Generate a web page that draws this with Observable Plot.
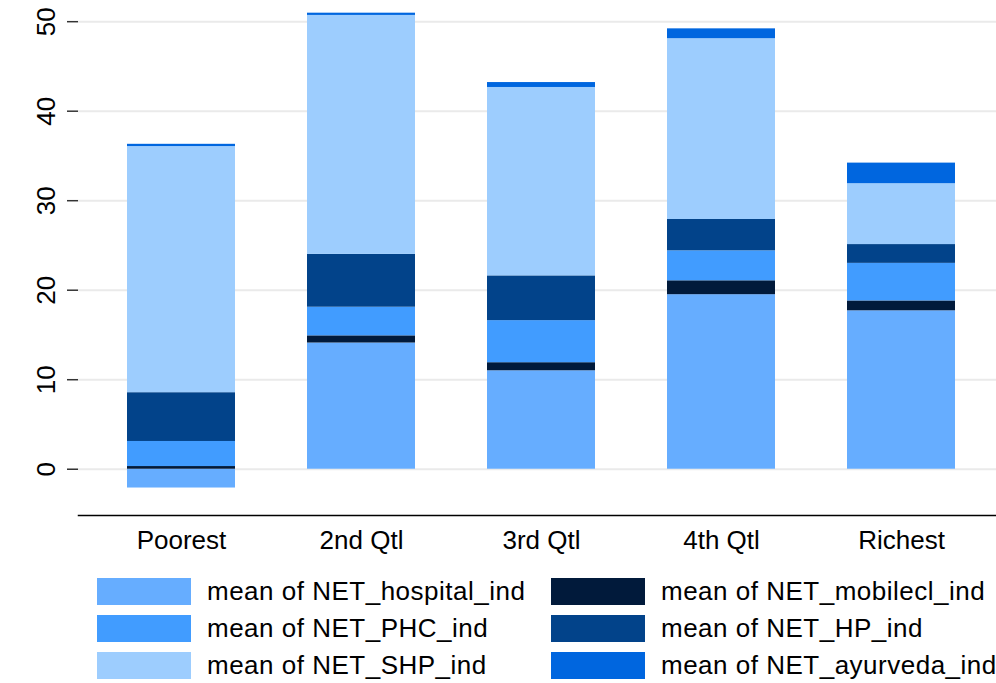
<!DOCTYPE html>
<html>
<head>
<meta charset="utf-8">
<script src="https://cdn.jsdelivr.net/npm/d3@7"></script>
<script src="https://cdn.jsdelivr.net/npm/@observablehq/plot@0.6"></script>
<style>
  body { margin: 0; background: #fff; font-family: "Liberation Sans", Arial, Helvetica, sans-serif; }
  #wrap { position: relative; width: 996px; height: 683px; overflow: hidden; }
  #chart { position: absolute; left: 0; top: 0; }
  .item { position: absolute; height: 27px; display: flex; align-items: center; }
  .sw { width: 94px; height: 27px; box-sizing: border-box; }
  .lab { margin-left: 16px; font-size: 26px; letter-spacing: 0.5px; color: #000; white-space: nowrap; line-height: 27px; }
</style>
</head>
<body>
<div id="wrap">
  <div id="chart"></div>
  <div id="legend"></div>
</div>
<script>
const categories = ["Poorest", "2nd Qtl", "3rd Qtl", "4th Qtl", "Richest"];
const seriesNames = [
  "mean of NET_hospital_ind",
  "mean of NET_mobilecl_ind",
  "mean of NET_PHC_ind",
  "mean of NET_HP_ind",
  "mean of NET_SHP_ind",
  "mean of NET_ayurveda_ind"
];
const hospital = [-2.1, 14.1, 11.0, 19.5, 17.7];
const mobilecl = [0.3, 0.8, 0.9, 1.55, 1.1];
const PHC      = [2.8, 3.2, 4.7, 3.35, 4.2];
const HP       = [5.45, 5.9, 5.0, 3.5, 2.1];
const SHP      = [27.5, 26.7, 21.05, 20.2, 6.8];
const ayurveda = [0.25, 0.25, 0.55, 1.1, 2.3];
const seriesValues = [hospital, mobilecl, PHC, HP, SHP, ayurveda];
const colors = ["#66adff", "#011a3b", "#419cff", "#02438a", "#9dcdfe", "#0066df"];
const yTicks = [0, 10, 20, 30, 40, 50];

// legend layout order (two columns as in reference)
const legendOrder = [
  [0, 0, 0], [2, 0, 1], [4, 0, 2],
  [1, 1, 0], [3, 1, 1], [5, 1, 2]
];

const data = [];
seriesNames.forEach((s, i) => {
  categories.forEach((c, j) => {
    data.push({category: c, series: s, value: seriesValues[i][j]});
  });
});

const font = '"Liberation Sans", Arial, Helvetica, sans-serif';

const chart = Plot.plot({
  width: 996,
  height: 560,
  marginLeft: 78,
  marginRight: 0,
  marginTop: 10,
  marginBottom: 45,
  style: {fontFamily: font, fontSize: "26px", color: "#000", background: "#fff"},
  x: {domain: categories, paddingInner: 0.4, paddingOuter: 0.2, insetLeft: 10.6, insetRight: 2.6, label: null},
  y: {domain: [-5.17, 51.25], label: null},
  color: {domain: seriesNames, range: colors},
  marks: [
    Plot.gridY(yTicks, {stroke: "#eaeaea", strokeOpacity: 1, strokeWidth: 2}),
    Plot.barY(data, Plot.stackY({x: "category", y: "value", z: "series", fill: "series", order: null})),
    Plot.axisY(yTicks, {tickSize: 11, tickFormat: () => "", stroke: "#333", strokeWidth: 1.5, label: null}),
    Plot.text(yTicks, {y: d => d, text: d => String(d), frameAnchor: "left", rotate: -90, dx: -32, textAnchor: "middle", lineAnchor: "middle", fontSize: 26, fill: "#000"}),
    Plot.axisX({tickSize: 0, tickPadding: 15, fontSize: 26, label: null}),
    Plot.frame({anchor: "bottom", stroke: "#000", strokeWidth: 1.5})
  ]
});
document.getElementById("chart").appendChild(chart);

const legend = document.getElementById("legend");
const colLeft = [97, 551];
const rowTop = [578, 615, 652];
legendOrder.forEach(([si, col, row]) => {
  const item = document.createElement("div");
  item.className = "item";
  item.style.left = colLeft[col] + "px";
  item.style.top = rowTop[row] + "px";
  const sw = document.createElement("div");
  sw.className = "sw";
  sw.style.background = colors[si];
  const lab = document.createElement("span");
  lab.className = "lab";
  lab.textContent = seriesNames[si];
  item.appendChild(sw);
  item.appendChild(lab);
  legend.appendChild(item);
});
</script>
</body>
</html>
